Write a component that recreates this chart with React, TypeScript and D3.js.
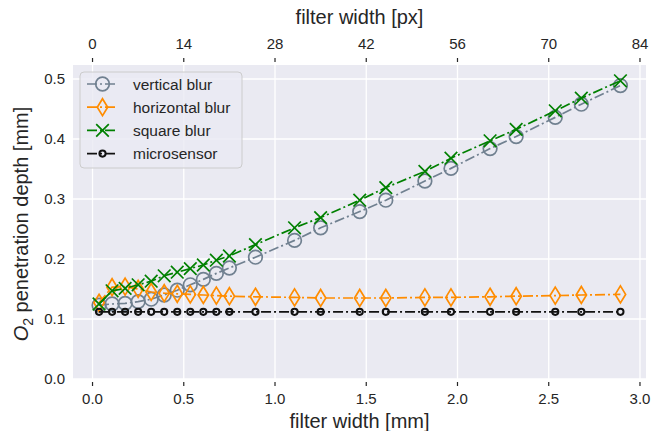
import React from "react";
import * as d3 from "d3";

const filterPx = [1, 3, 5, 7, 9, 11, 13, 15, 17, 19, 21, 25, 31, 35, 41, 45, 51, 55, 61, 65, 71, 75, 81];
const verticalBlur = [0.123, 0.125, 0.126, 0.129, 0.133, 0.140, 0.148, 0.157, 0.166, 0.176, 0.185, 0.203, 0.231, 0.252, 0.279, 0.298, 0.330, 0.351, 0.384, 0.404, 0.436, 0.458, 0.489];
const horizontalBlur = [0.127, 0.153, 0.154, 0.150, 0.145, 0.143, 0.142, 0.141, 0.140, 0.139, 0.138, 0.137, 0.136, 0.135, 0.135, 0.135, 0.136, 0.136, 0.137, 0.138, 0.139, 0.140, 0.141];
const squareBlur = [0.125, 0.147, 0.151, 0.157, 0.163, 0.172, 0.178, 0.184, 0.190, 0.198, 0.205, 0.224, 0.252, 0.269, 0.298, 0.319, 0.346, 0.368, 0.397, 0.416, 0.447, 0.468, 0.497];
const microsensor = [0.112, 0.112, 0.112, 0.112, 0.112, 0.112, 0.112, 0.112, 0.112, 0.112, 0.112, 0.112, 0.112, 0.112, 0.112, 0.112, 0.112, 0.112, 0.112, 0.112, 0.112, 0.112, 0.112];
const pxPerMm = 28;
const xTicksMm = [0.0, 0.5, 1.0, 1.5, 2.0, 2.5, 3.0];
const xTicksPx = [0, 14, 28, 42, 56, 70, 84];
const yTicks = [0.0, 0.1, 0.2, 0.3, 0.4, 0.5];
const seriesNames = ["vertical blur", "horizontal blur", "square blur", "microsensor"];

const W = 653, H = 431;
const L = 73, R = 646, T = 65, B = 379;
const FONT = "'Liberation Sans', Arial, sans-serif";
const TXT = "#262626";
const DASH = "10,3,2,3";

const x = d3.scaleLinear().domain([-0.107, 3.033]).range([L, R]);
const xTop = d3.scaleLinear().domain([-0.107 * pxPerMm, 3.033 * pxPerMm]).range([L, R]);
const y = d3.scaleLinear().domain([0, 0.5233]).range([B, T]);

type MarkerKind = "circle" | "thindiamond" | "x" | "smallcircle";
const series = [
  { name: seriesNames[0], values: verticalBlur, color: "#708090", marker: "circle" as MarkerKind },
  { name: seriesNames[1], values: horizontalBlur, color: "#ff8c00", marker: "thindiamond" as MarkerKind },
  { name: seriesNames[2], values: squareBlur, color: "#008000", marker: "x" as MarkerKind },
  { name: seriesNames[3], values: microsensor, color: "#111111", marker: "smallcircle" as MarkerKind },
];

function Marker({ kind, cx, cy, color }: { kind: MarkerKind; cx: number; cy: number; color: string }) {
  if (kind === "circle") return <circle cx={cx} cy={cy} r={6.8} fill="none" stroke={color} strokeWidth={1.7} />;
  if (kind === "smallcircle") return <circle cx={cx} cy={cy} r={3.1} fill="none" stroke={color} strokeWidth={2} />;
  if (kind === "thindiamond") {
    const hw = 5.2, hh = 8.5;
    return <path d={`M${cx},${cy - hh}L${cx + hw},${cy}L${cx},${cy + hh}L${cx - hw},${cy}Z`} fill="none" stroke={color} strokeWidth={1.7} />;
  }
  const s = 6.3;
  return <path d={`M${cx - s},${cy - s}L${cx + s},${cy + s}M${cx - s},${cy + s}L${cx + s},${cy - s}`} fill="none" stroke={color} strokeWidth={1.7} />;
}

export default function App() {
  const line = d3.line<number>().x((_, i) => x(filterPx[i] / pxPerMm)).y((v) => y(v));
  return (
    <svg width={W} height={H} style={{ position: "absolute", left: 0, top: 0, background: "#fff" }} fontFamily={FONT}>
      <rect x={L} y={T} width={R - L} height={B - T} fill="#eaeaf2" />
      {yTicks.map((t) => (
        <line key={"gy" + t} x1={L} x2={R} y1={y(t)} y2={y(t)} stroke="#fff" strokeWidth={1.3} />
      ))}
      {xTicksMm.map((t) => (
        <line key={"gx" + t} x1={x(t)} x2={x(t)} y1={T} y2={B} stroke="#fff" strokeWidth={1.3} />
      ))}
      {series.map((s) => (
        <g key={s.name}>
          <path d={line(s.values) || ""} fill="none" stroke={s.color} strokeWidth={1.7} strokeDasharray={DASH} />
          {s.values.map((v, i) => (
            <Marker key={i} kind={s.marker} cx={x(filterPx[i] / pxPerMm)} cy={y(v)} color={s.color} />
          ))}
        </g>
      ))}
      {/* bottom axis */}
      {xTicksMm.map((t) => (
        <g key={"bx" + t}>
          <line x1={x(t)} x2={x(t)} y1={B + 3} y2={B + 7} stroke={TXT} strokeWidth={1.2} />
          <text x={x(t)} y={B + 25} textAnchor="middle" fontSize={15} fill={TXT}>{t.toFixed(1)}</text>
        </g>
      ))}
      <text x={(L + R) / 2} y={428} textAnchor="middle" fontSize={20} fill={TXT}>filter width [mm]</text>
      {/* top axis */}
      {xTicksPx.map((t) => (
        <g key={"tx" + t}>
          <line x1={xTop(t)} x2={xTop(t)} y1={T - 7} y2={T - 3} stroke={TXT} strokeWidth={1.2} />
          <text x={xTop(t)} y={T - 16} textAnchor="middle" fontSize={15} fill={TXT}>{t}</text>
        </g>
      ))}
      <text x={(L + R) / 2} y={24} textAnchor="middle" fontSize={20} fill={TXT}>filter width [px]</text>
      {/* left axis */}
      {yTicks.map((t) => (
        <text key={"yl" + t} x={L - 8} y={y(t) + 5} textAnchor="end" fontSize={15} fill={TXT}>{t.toFixed(1)}</text>
      ))}
      <text transform={`translate(28,${(T + B) / 2 + 2}) rotate(-90)`} textAnchor="middle" fontSize={20} fill={TXT}>
        <tspan fontStyle="italic">O</tspan>
        <tspan fontSize={14} dy={5}>2</tspan>
        <tspan dy={-5}> penetration depth [mm]</tspan>
      </text>
      {/* legend */}
      <rect x={80} y={72} width={162} height={96} rx={4} fill="#eaeaf2" fillOpacity={0.8} stroke="#cccccc" strokeWidth={1} />
      {series.map((s, i) => {
        const ly = 84 + i * 23.2;
        return (
          <g key={"lg" + s.name}>
            <line x1={87} x2={118} y1={ly} y2={ly} stroke={s.color} strokeWidth={1.7} strokeDasharray={DASH} />
            <Marker kind={s.marker} cx={102.5} cy={ly} color={s.color} />
            <text x={133} y={ly + 5.5} fontSize={15.5} fill={TXT}>{s.name}</text>
          </g>
        );
      })}
    </svg>
  );
}
